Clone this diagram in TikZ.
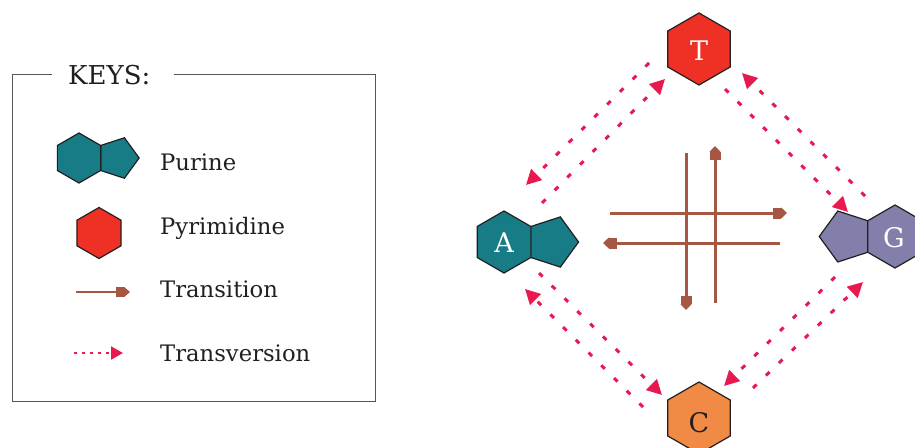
\documentclass[tikz,border=0pt]{standalone}
\usepackage{fontspec}
\setmainfont{DejaVu Serif}
\usetikzlibrary{arrows.meta}
\definecolor{purinecol}{RGB}{23,124,133}
\definecolor{pyrcol}{RGB}{238,49,36}
\definecolor{gcol}{RGB}{130,128,170}
\definecolor{ccol}{RGB}{240,138,69}
\definecolor{transcol}{RGB}{166,87,65}
\definecolor{tvcol}{RGB}{232,25,79}
\definecolor{inkcol}{RGB}{35,31,32}
\definecolor{boxcol}{RGB}{85,85,85}
\tikzset{
  outline/.style={draw=inkcol, line width=1.2pt, line join=miter},
  transarrow/.style={draw=transcol, line width=3pt,
    -{Rectangle[length=8pt,width=11pt,sep=0pt,fill=transcol]Triangle[length=6pt,width=11pt,fill=transcol]}},
  tvarrow/.style={draw=tvcol, line width=3pt, dash pattern=on 5pt off 13pt,
    -{Triangle[length=15pt,width=15pt,fill=tvcol]}},
  keytrans/.style={draw=transcol, line width=2pt,
    -{Rectangle[length=8pt,width=10pt,sep=0pt,fill=transcol]Triangle[length=6pt,width=10pt,fill=transcol]}},
  keytv/.style={draw=tvcol, line width=2pt, dash pattern=on 3pt off 5pt,
    -{Triangle[length=12pt,width=13pt,fill=tvcol]}},
  letter/.style={font=\fontsize{27}{32}\selectfont, inner sep=0pt, anchor=base},
  keytext/.style={font=\fontsize{22.7}{27}\selectfont, inner sep=0pt, anchor=base west, text=inkcol},
  keybox/.style={draw=boxcol, line width=1pt},
}
\newcommand\hexshape[4]{\draw[outline,fill=#4] (#1,#2) ++(-30:#3) -- ++(90:#3) -- ++(150:#3) -- ++(210:#3) -- ++(270:#3) -- ++(330:#3) -- cycle;}
\newcommand\pentright[4]{\draw[outline,fill=#4] (#1,#2) ++(30:#3) -- ++(18:#3) -- ++(-54:#3) -- ++(-126:#3) -- ++(162:#3) -- cycle;}
\newcommand\pentleft[4]{\draw[outline,fill=#4] (#1,#2) ++(150:#3) -- ++(162:#3) -- ++(234:#3) -- ++(306:#3) -- ++(18:#3) -- cycle;}
\begin{document}
\begin{tikzpicture}[x=1pt,y=-1pt]
\useasboundingbox (0,0) rectangle (915,447);
\clip (0,0) rectangle (915,447);

% ---------- keys box ----------
\draw[keybox] (52,74) -- (12,74) -- (12,401) -- (375,401) -- (375,74) -- (174,74);
\node[keytext, font=\fontsize{26}{31}\selectfont] (keys) at (68,84) {KEYS:};

\pentright{79}{158}{25}{purinecol}
\hexshape{79}{158}{25}{purinecol}
\node[keytext] (kpurine) at (160,170) {Purine};

\hexshape{99}{233}{25.5}{pyrcol}
\node[keytext] (kpyr) at (160,234) {Pyrimidine};

\coordinate (kts) at (76,292);
\coordinate (kte) at (130,292);
\draw[keytrans] (kts) -- (kte);
\node[keytext] (ktrans) at (160,297) {Transition};

\coordinate (kvs) at (74,353);
\coordinate (kve) at (123,353);
\draw[keytv] (kvs) -- (kve);
\node[keytext] (ktv) at (160,361) {Transversion};

% ---------- bases ----------
\hexshape{699}{49}{36}{pyrcol}
\node[letter, text=white] (T) at (699,60) {T};

\pentright{504}{242}{31}{purinecol}
\hexshape{504}{242}{31}{purinecol}
\node[letter, text=white] (A) at (504,252) {A};

\pentleft{895}{236.5}{31.5}{gcol}
\hexshape{895}{236.5}{31.5}{gcol}
\node[letter, text=white] (G) at (894,247) {G};

\hexshape{699}{418}{36}{ccol}
\node[letter, text=inkcol] (C) at (699,432) {C};

% ---------- transitions ----------
\coordinate (v1s) at (686,153); \coordinate (v1e) at (686,310);
\coordinate (v2s) at (715,303); \coordinate (v2e) at (715,146);
\coordinate (h1s) at (610,213); \coordinate (h1e) at (787,213);
\coordinate (h2s) at (780,243); \coordinate (h2e) at (603,243);
\draw[transarrow] (v1s) -- (v1e);
\draw[transarrow] (v2s) -- (v2e);
\draw[transarrow] (h1s) -- (h1e);
\draw[transarrow] (h2s) -- (h2e);

% ---------- transversions ----------
% A - T
\coordinate (at1s) at (649,63);  \coordinate (at1e) at (526,185);
\coordinate (at2s) at (542,203); \coordinate (at2e) at (665,79);
% T - G
\coordinate (tg1s) at (725,89);  \coordinate (tg1e) at (848,212);
\coordinate (tg2s) at (865,196); \coordinate (tg2e) at (742,73);
% G - C
\coordinate (gc1s) at (835,277); \coordinate (gc1e) at (724,386);
\coordinate (gc2s) at (753,388); \coordinate (gc2e) at (863,282);
% A - C
\coordinate (ac1s) at (539,273); \coordinate (ac1e) at (662,395);
\coordinate (ac2s) at (643,407); \coordinate (ac2e) at (525,289);
\foreach \p in {at1,at2,tg1,tg2,gc1,gc2,ac1,ac2}
  \draw[tvarrow] (\p s) -- (\p e);
\end{tikzpicture}
\end{document}
